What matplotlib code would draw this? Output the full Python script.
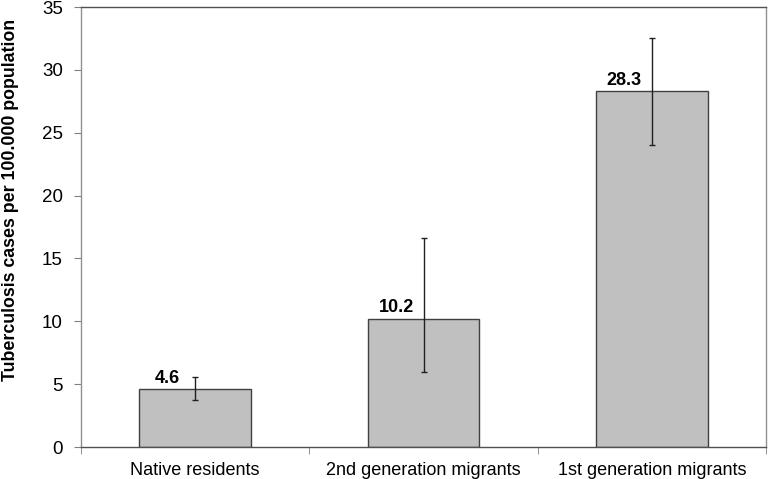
import matplotlib.pyplot as plt
import numpy as np

plt.rcParams['font.family'] = ['Liberation Sans', 'DejaVu Sans']

categories = ["Native residents", "2nd generation migrants", "1st generation migrants"]
rates = [4.6, 10.2, 28.3]
ci_low = [3.7, 6.0, 24.0]
ci_high = [5.6, 16.6, 32.5]
value_labels = ["4.6", "10.2", "28.3"]

x = np.arange(len(categories))
yerr = np.array([np.subtract(rates, ci_low), np.subtract(ci_high, rates)])

fig = plt.figure(figsize=(7.69, 4.79), dpi=100)
ax = fig.add_axes([81 / 769, 32 / 479, 685 / 769, 440 / 479])

ax.bar(x, rates, width=0.49, color='#c0c0c0', edgecolor='#404040', linewidth=1.0, zorder=2)
ax.errorbar(x, rates, yerr=yerr, fmt='none', ecolor='#202020', elinewidth=1.0,
            capsize=2.2, capthick=1.0, zorder=3)

# value labels sit left of the error bar, just above the bar
for xi, val, lab in zip(x, rates, value_labels):
    ax.text(xi - 0.12, val + 0.2, lab, ha='center', va='bottom',
            fontsize=13, fontweight='bold', color='black')

ax.set_xlim(-0.5, 2.5)
ax.set_ylim(0, 35)
ax.set_yticks(np.arange(0, 36, 5))
ax.tick_params(axis='y', labelsize=13.5, length=5, color='#808080', pad=8)

# category labels centred, tick marks at category boundaries
ax.set_xticks(x)
ax.set_xticklabels(categories, fontsize=13)
ax.tick_params(axis='x', which='major', length=0, pad=11)
ax.set_xticks(np.arange(-0.5, 3, 1), minor=True)
ax.tick_params(axis='x', which='minor', length=5, color='#808080')

ax.set_ylabel("Tuberculosis cases per 100.000 population", fontsize=12.8,
              fontweight='bold')
ax.yaxis.set_label_coords(-0.09, 0.561)

for side in ['left', 'right']:
    ax.spines[side].set_color('#909090')
for side in ['top', 'bottom']:
    ax.spines[side].set_color('#505050')
for s in ax.spines.values():
    s.set_linewidth(1.0)

plt.savefig('out.png', dpi=100)
